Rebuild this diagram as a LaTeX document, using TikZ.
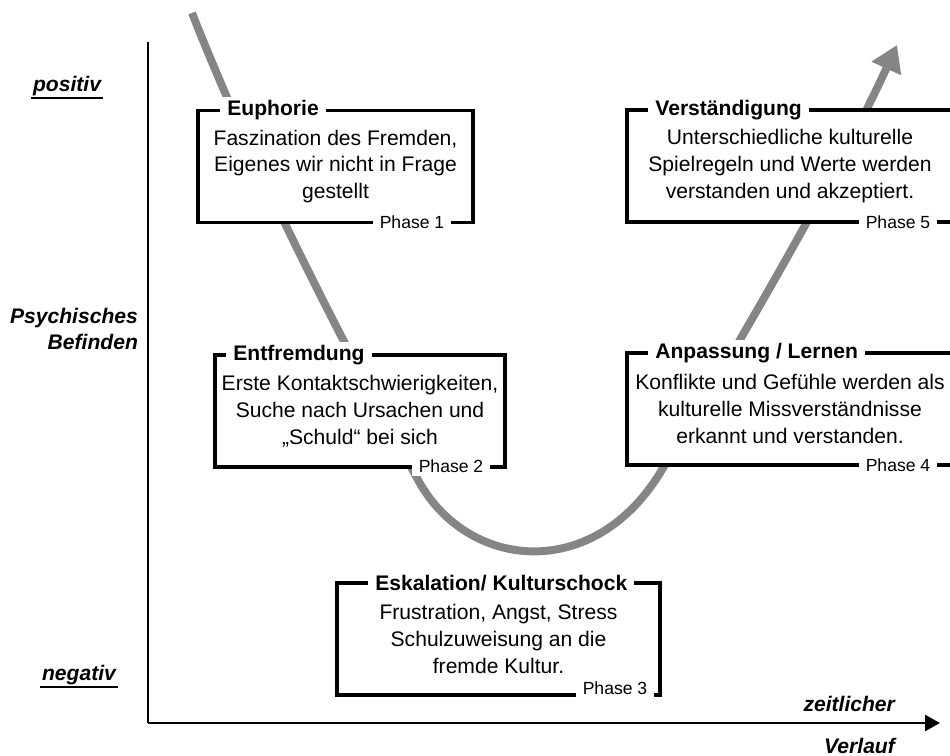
\documentclass[tikz,border=0pt]{standalone}
\usepackage{fontspec}
\setmainfont{Liberation Sans}
\usetikzlibrary{arrows.meta}
\definecolor{curvegray}{RGB}{133,133,133}

\begin{document}
\begin{tikzpicture}[
        x=0.02cm, y=-0.02cm,
        every node/.style={font=\fontsize{12}{15.3}\selectfont},
        phasebox/.style={rectangle, draw=black, line width=2.2pt, fill=white, align=center, minimum height=2.24cm, inner sep=0pt},
        boxtitle/.style={fill=white, anchor=west, font=\bfseries\fontsize{12}{14}\selectfont, inner xsep=4pt, inner ysep=2pt},
        phaselabel/.style={fill=white, font=\fontsize{10}{12}\selectfont, inner xsep=4pt, inner ysep=2pt},
        axislabel/.style={font=\bfseries\itshape\fontsize{12}{15.3}\selectfont, inner sep=1pt},
        uline/.style={line width=1.5pt},
        curve/.style={curvegray, line width=4.5pt, -{Triangle[length=14.7pt, width=17.6pt]}},
        yaxis/.style={black, line width=0.9pt},
        xaxis/.style={black, line width=1.7pt, -{Triangle[length=8.5pt, width=9pt]}}
    ]
        \useasboundingbox (0,0) rectangle (950,756);
        \fill[white] (0,0) rectangle (950,756);

        % Axes
        \coordinate (origin) at (148,723);
        \coordinate (ytop) at (148,42);
        \coordinate (xend) at (940,723);
        \draw[yaxis] (origin) -- (ytop);
        \draw[xaxis] (origin) -- (xend);

        % Curve
        \coordinate (cstart) at (192,13);
        \coordinate (cleft) at (417,478);
        \coordinate (cright) at (663,468);
        \coordinate (cend) at (897,45);
        \draw[curve] (cstart) .. controls (250,160) and (330,320) .. (cleft)
            .. controls (465,570) and (595,585) .. (cright)
            .. controls (730,360) and (840,170) .. (cend);

        % Axis labels
        \node[axislabel] (positiv) at (67,86) {positiv};
        \draw[uline] (positiv.south west) -- (positiv.south east);
        \node[axislabel, align=right, anchor=east] (befinden) at (140,329) {Psychisches\\Befinden};
        \node[axislabel] (negativ) at (79,675) {negativ};
        \draw[uline] (negativ.south west) -- (negativ.south east);
        \node[axislabel, anchor=east] (zeit) at (897,704) {zeitlicher};
        \node[axislabel, anchor=east] (verlauf) at (897,746) {Verlauf};

        % Phase 1
        \node[phasebox, minimum width=5.5cm] (euphorie) at (335.5,166.5)
            {Faszination des Fremden,\\Eigenes wir nicht in Frage\\gestellt};
        \node[boxtitle] (euphorieT) at (220,110) {Euphorie};
        \node[phaselabel] (euphorieP) at (412,222) {Phase 1};

        % Phase 2
        \node[phasebox, minimum width=5.8cm] (entfremdung) at (360,411)
            {Erste Kontaktschwierigkeiten,\\Suche nach Ursachen und\\„Schuld“ bei sich};
        \node[boxtitle] (entfremdungT) at (226,355) {Entfremdung};
        \node[phaselabel] (entfremdungP) at (451,466) {Phase 2};

        % Phase 3
        \node[phasebox, minimum width=6.46cm] (eskalation) at (498.5,639)
            {Frustration, Angst, Stress\\Schulzuweisung an die\\fremde Kultur.};
        \node[boxtitle] (eskalationT) at (368,583) {Eskalation/ Kulturschock};
        \node[phaselabel] (eskalationP) at (615,688) {Phase 3};

        % Phase 4
        \node[phasebox, minimum width=6.52cm] (anpassung) at (790,409)
            {Konflikte und Gefühle werden als\\kulturelle Missverständnisse\\erkannt und verstanden.};
        \node[boxtitle] (anpassungT) at (648,353) {Anpassung / Lernen};
        \node[phaselabel] (anpassungP) at (898,465) {Phase 4};

        % Phase 5
        \node[phasebox, minimum width=6.52cm] (verstaendigung) at (790,166)
            {Unterschiedliche kulturelle\\Spielregeln und Werte werden\\verstanden und akzeptiert.};
        \node[boxtitle] (verstaendigungT) at (648,110) {Verständigung};
        \node[phaselabel] (verstaendigungP) at (898,222) {Phase 5};
    \end{tikzpicture}
\end{document}
